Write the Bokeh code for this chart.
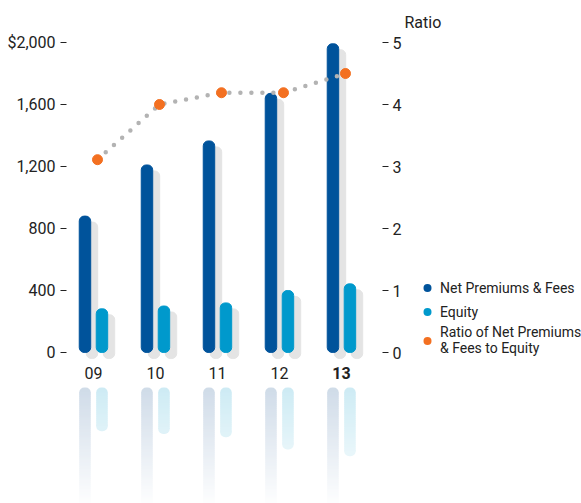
import numpy as np
from bokeh.plotting import figure
from bokeh.layouts import row
from bokeh.models import (Range1d, LinearAxis, FixedTicker, NumeralTickFormatter,
                          Legend, LegendItem, Label)
from bokeh.core.properties import value
from bokeh.embed import file_html
from bokeh.resources import INLINE

# ---- data ----
years = ["09", "10", "11", "12", "13"]
net_premiums = [880, 1210, 1365, 1672, 1992]   # $ millions
equity = [282, 300, 320, 400, 443]
ratio = [3.11, 4.0, 4.19, 4.19, 4.5]
dollar_ticks = [0, 400, 800, 1200, 1600, 2000]
ratio_ticks = [0, 1, 2, 3, 4, 5]

# ---- style ----
FONT = "Roboto"
TEXT = "#222222"
DARK = "#00539b"
LIGHT = "#0099cc"
SHADOW = "#e4e4e4"
ORANGE = "#f37021"
DOTS = "#b3b3b3"
DARK_REFL = (207, 219, 232)
LIGHT_REFL = (205, 235, 244)

H = 503
PX_PER_UNIT = 0.155          # pixels per dollar on the left scale
BASE_PX = 352                # zero line, pixels below the top
BAR_W = 0.185                # bar width in category units
OFF = 0.137                  # half distance between paired bars
SH_DX = 0.113                # shadow shift to the right
SH_DY = 6 / PX_PER_UNIT      # shadow shift downward
REFL_TOP = -226              # start of the mirrored bars
LABEL_Y = -132               # year labels
FADE_PX = 120                # mirrored bars vanish after this many pixels

y_top = BASE_PX / PX_PER_UNIT
y_bot = -(H - BASE_PX) / PX_PER_UNIT

idx = np.arange(len(years))

p = figure(frame_width=316, frame_height=H, output_backend="svg",
           toolbar_location=None, x_range=Range1d(-0.435, 4.662),
           y_range=Range1d(y_bot, y_top), x_axis_location=None,
           min_border_left=66, min_border_top=0, min_border_bottom=0,
           min_border_right=19, outline_line_color=None,
           background_fill_color="white", border_fill_color="white")
p.grid.visible = False
p.extra_y_ranges = {"ratio": Range1d(-(H - BASE_PX) / 62, BASE_PX / 62)}

# left dollar axis
ya = p.yaxis[0]
ya.ticker = FixedTicker(ticks=dollar_ticks)
ya.formatter = NumeralTickFormatter(format="0,0")
ya.major_label_overrides = {2000: "$2,000"}
ya.axis_line_color = None
ya.minor_tick_line_color = None
ya.major_tick_in = 0
ya.major_tick_out = 6
ya.major_tick_line_color = TEXT
ya.major_label_standoff = 5
ya.major_label_text_font = FONT
ya.major_label_text_font_size = "16px"
ya.major_label_text_color = TEXT

# right ratio axis
ra = LinearAxis(y_range_name="ratio", ticker=FixedTicker(ticks=ratio_ticks),
                axis_line_color=None, minor_tick_line_color=None,
                major_tick_in=0, major_tick_out=6, major_tick_line_color=TEXT,
                major_label_standoff=4, major_label_text_font=FONT,
                major_label_text_font_size="16px", major_label_text_color=TEXT)
p.add_layout(ra, "right")

# shadows behind the bars
p.vbar(x=idx - OFF + SH_DX, width=BAR_W, bottom=-SH_DY,
       top=[v - SH_DY for v in net_premiums], color=SHADOW, border_radius=5)
p.vbar(x=idx + OFF + SH_DX, width=BAR_W, bottom=-SH_DY,
       top=[v - SH_DY for v in equity], color=SHADOW, border_radius=5)

# main bars
p.vbar(x=idx - OFF, width=BAR_W, bottom=0, top=net_premiums, color=DARK,
       border_radius=5)
p.vbar(x=idx + OFF, width=BAR_W, bottom=0, top=equity, color=LIGHT,
       border_radius=5)


# mirrored bars: pale tint fading to white with distance from their top
def tint(rgb, d_px):
    f = max(0.0, 1.0 - d_px / FADE_PX)
    r, g, b = (int(round(255 - (255 - c) * f)) for c in rgb)
    return f"#{r:02x}{g:02x}{b:02x}"


def y_at(d_px):
    return REFL_TOP - d_px / PX_PER_UNIT


def mirrored(xs, values, rgb):
    lengths = [v * PX_PER_UNIT for v in values]
    # rounded top caps
    p.vbar(x=xs, width=BAR_W, top=REFL_TOP, bottom=y_at(6),
           fill_color=tint(rgb, 2), line_color=None, border_radius=(5, 5, 0, 0))
    # rounded ends for the ones that finish before fading out
    ends = [(x, L) for x, L in zip(xs, lengths) if L < FADE_PX]
    if ends:
        p.vbar(x=[e[0] for e in ends], width=BAR_W,
               top=[y_at(e[1] - 6) for e in ends],
               bottom=[y_at(e[1]) for e in ends],
               fill_color=[tint(rgb, e[1] - 3) for e in ends], line_color=None,
               border_radius=(0, 0, 5, 5))
    # gradient bands in between
    bx, bt, bb, bc = [], [], [], []
    step = 2.0
    for x, L in zip(xs, lengths):
        d = 5.0
        stop = min(L - 5, FADE_PX)
        while d < stop:
            bx.append(x)
            bt.append(y_at(d))
            bb.append(y_at(min(d + step + 0.6, L - 5)))
            bc.append(tint(rgb, d + 1))
            d += step
    p.vbar(x=bx, width=BAR_W, top=bt, bottom=bb, fill_color=bc, line_color=None)


mirrored(list(idx - OFF), net_premiums, DARK_REFL)
mirrored(list(idx + OFF), equity, LIGHT_REFL)

# year labels
p.text(x=idx, y=[LABEL_Y] * len(years), text=years, text_align="center",
       text_baseline="middle", text_font=value(FONT), text_font_size="16px",
       text_color=TEXT, text_font_style=["normal"] * 4 + ["bold"])

# ratio line and points
rx = idx + 0.065
p.line(x=rx, y=ratio, y_range_name="ratio", line_color=DOTS, line_width=4.5,
       line_dash="0 11", line_cap="round")
p.scatter(x=rx, y=ratio, y_range_name="ratio", size=10, color=ORANGE)

# ---- key panel to the right of the chart ----
q = figure(width=180, height=H, output_backend="svg", toolbar_location=None,
           x_range=Range1d(0, 1), y_range=Range1d(0, 1),
           x_axis_location=None, y_axis_location=None,
           min_border=0, outline_line_color=None,
           background_fill_color="white", border_fill_color="white")
q.grid.visible = False

keys = [q.scatter(x=[0.5], y=[0.5], size=0, fill_color=c, line_color=None)
        for c in (DARK, LIGHT, ORANGE)]

legend = Legend(items=[
    LegendItem(label="Net Premiums & Fees", renderers=[keys[0]]),
    LegendItem(label="Equity", renderers=[keys[1]]),
    LegendItem(label="Ratio of Net Premiums\n& Fees to Equity", renderers=[keys[2]]),
], location=(13, 147), border_line_color=None, background_fill_alpha=0,
   padding=0, margin=0, spacing=1, glyph_width=20, glyph_height=23,
   label_standoff=3, label_text_font=FONT, label_text_font_size="14px",
   label_text_color=TEXT, label_height=18)
q.add_layout(legend)

q.add_layout(Label(x=0, y=H - 22, x_units="screen", y_units="screen",
                   text="Ratio", text_font=FONT, text_font_size="16px",
                   text_color=TEXT, text_baseline="alphabetic"))

layout = row(p, q, spacing=0)
open("out.html", "w").write(file_html(layout, INLINE))
